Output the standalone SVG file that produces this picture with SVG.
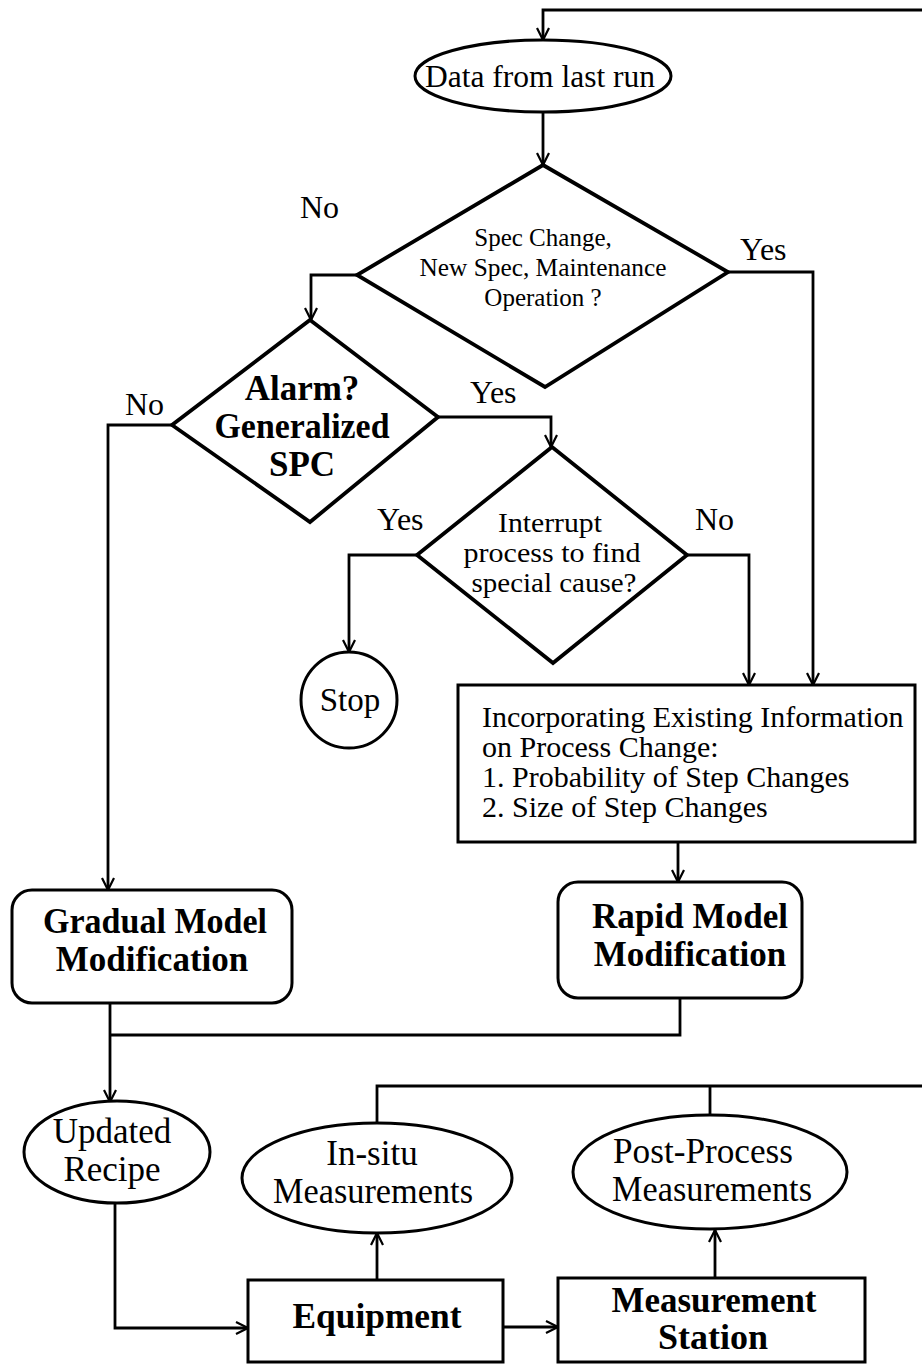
<svg xmlns="http://www.w3.org/2000/svg" width="922" height="1364" viewBox="0 0 922 1364">
  <defs>
    <marker id="arrow" markerUnits="userSpaceOnUse" markerWidth="16" markerHeight="16" refX="13" refY="7" orient="auto">
      <path d="M1,1 L13,7 L1,13" fill="none" stroke="#000" stroke-width="2.2"/>
    </marker>
    <style>
      .shape { fill: #fff; stroke: #000; stroke-width: 3; }
      .dia { fill: #fff; stroke: #000; stroke-width: 3.8; stroke-linejoin: miter; }
      .conn { fill: none; stroke: #000; stroke-width: 2.8; }
      .arr { marker-end: url(#arrow); }
      text { font-family: "Liberation Serif", "Times New Roman", serif; fill: #000; }
      .b { font-weight: bold; }
      .mid { text-anchor: middle; }
    </style>
  </defs>

  <!-- connectors -->
  <g id="connectors">
    <path class="conn arr" d="M922,10 H543 V40"/>
    <path class="conn arr" d="M543,112 V165"/>
    <path class="conn arr" d="M357,275 H311 V320"/>
    <path class="conn arr" d="M728,272 H813 V685"/>
    <path class="conn arr" d="M172,425 H108 V890"/>
    <path class="conn arr" d="M438,417 H551 V447"/>
    <path class="conn arr" d="M417,555 H349 V652"/>
    <path class="conn arr" d="M687,555 H749 V685"/>
    <path class="conn arr" d="M678,842 V882"/>
    <path class="conn" d="M680,998 V1035 H110"/>
    <path class="conn arr" d="M110,1003 V1102"/>
    <path class="conn arr" d="M115,1203 V1328 H248"/>
    <path class="conn arr" d="M377,1280 V1233"/>
    <path class="conn arr" d="M503,1327 H558"/>
    <path class="conn arr" d="M715,1278 V1230"/>
    <path class="conn" d="M377,1123 V1086 H922"/>
    <path class="conn" d="M710,1115 V1086"/>
  </g>

  <!-- branch labels -->
  <g id="labels" font-size="32">
    <text x="300" y="218">No</text>
    <text x="740" y="260">Yes</text>
    <text x="125" y="415">No</text>
    <text x="470" y="403">Yes</text>
    <text x="377" y="530">Yes</text>
    <text x="695" y="530">No</text>
  </g>

  <g id="data-last-run">
    <ellipse class="shape" cx="543" cy="76" rx="128" ry="36"/>
    <text class="mid" x="540" y="87" font-size="32" textLength="230" lengthAdjust="spacingAndGlyphs">Data from last run</text>
  </g>

  <g id="spec-change">
    <polygon class="dia" points="543,165 728,272 545,387 357,275"/>
    <text class="mid" x="543" y="246" font-size="25">Spec Change,</text>
    <text class="mid" x="543" y="276" font-size="25" textLength="247" lengthAdjust="spacingAndGlyphs">New Spec, Maintenance</text>
    <text class="mid" x="543" y="306" font-size="25">Operation ?</text>
  </g>

  <g id="alarm-spc">
    <polygon class="dia" points="310,320 438,417 310,522 172,425"/>
    <text class="mid b" x="302" y="400" font-size="35">Alarm?</text>
    <text class="mid b" x="302" y="438" font-size="35" textLength="175" lengthAdjust="spacingAndGlyphs">Generalized</text>
    <text class="mid b" x="302" y="476" font-size="35">SPC</text>
  </g>

  <g id="interrupt">
    <polygon class="dia" points="552,447 687,555 553,663 417,555"/>
    <text class="mid" x="550" y="532" font-size="28" textLength="104" lengthAdjust="spacingAndGlyphs">Interrupt</text>
    <text class="mid" x="552" y="562" font-size="28" textLength="177" lengthAdjust="spacingAndGlyphs">process to find</text>
    <text class="mid" x="554" y="592" font-size="28" textLength="165" lengthAdjust="spacingAndGlyphs">special cause?</text>
  </g>

  <g id="stop">
    <circle class="shape" cx="349" cy="700" r="48"/>
    <text class="mid" x="350" y="711" font-size="33">Stop</text>
  </g>

  <g id="existing-info">
    <rect class="shape" x="458" y="685" width="457" height="157"/>
    <text x="482" y="727" font-size="30">Incorporating Existing Information</text>
    <text x="482" y="757" font-size="30">on Process Change:</text>
    <text x="482" y="787" font-size="30">1. Probability of Step Changes</text>
    <text x="482" y="817" font-size="30">2. Size of Step Changes</text>
  </g>

  <g id="rapid-model">
    <rect class="shape" x="558" y="882" width="244" height="116" rx="20" ry="20"/>
    <text class="mid b" x="690" y="928" font-size="35" textLength="196" lengthAdjust="spacingAndGlyphs">Rapid Model</text>
    <text class="mid b" x="690" y="966" font-size="35">Modification</text>
  </g>

  <g id="gradual-model">
    <rect class="shape" x="12" y="890" width="280" height="113" rx="20" ry="20"/>
    <text class="mid b" x="155" y="933" font-size="35" textLength="224" lengthAdjust="spacingAndGlyphs">Gradual Model</text>
    <text class="mid b" x="152" y="971" font-size="35">Modification</text>
  </g>

  <g id="updated-recipe">
    <ellipse class="shape" cx="117" cy="1152" rx="93" ry="51"/>
    <text class="mid" x="112" y="1143" font-size="35">Updated</text>
    <text class="mid" x="112" y="1181" font-size="35">Recipe</text>
  </g>

  <g id="in-situ">
    <ellipse class="shape" cx="377" cy="1178" rx="135" ry="55"/>
    <text class="mid" x="372" y="1165" font-size="35">In-situ</text>
    <text class="mid" x="373" y="1203" font-size="35" textLength="200" lengthAdjust="spacingAndGlyphs">Measurements</text>
  </g>

  <g id="post-process">
    <ellipse class="shape" cx="710" cy="1172" rx="137" ry="57"/>
    <text class="mid" x="703" y="1163" font-size="35" textLength="180" lengthAdjust="spacingAndGlyphs">Post-Process</text>
    <text class="mid" x="712" y="1201" font-size="35" textLength="200" lengthAdjust="spacingAndGlyphs">Measurements</text>
  </g>

  <g id="equipment">
    <rect class="shape" x="248" y="1280" width="255" height="82"/>
    <text class="mid b" x="377" y="1328" font-size="36" textLength="169" lengthAdjust="spacingAndGlyphs">Equipment</text>
  </g>

  <g id="measurement-station">
    <rect class="shape" x="558" y="1278" width="307" height="84"/>
    <text class="mid b" x="714" y="1312" font-size="36" textLength="205" lengthAdjust="spacingAndGlyphs">Measurement</text>
    <text class="mid b" x="713" y="1349" font-size="36">Station</text>
  </g>
</svg>
